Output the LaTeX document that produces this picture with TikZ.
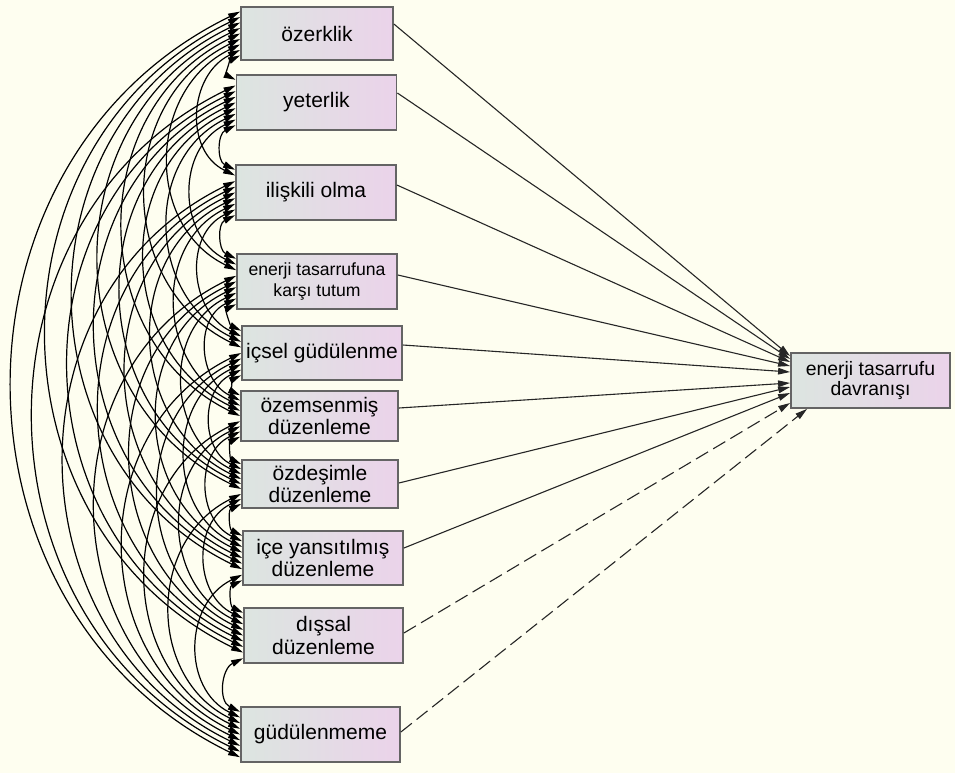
\documentclass[tikz,border=0pt]{standalone}
\usepackage{fontspec}
\setmainfont{Liberation Sans}
\usetikzlibrary{arrows.meta,calc}

\definecolor{bgyellow}{RGB}{254,254,240}
\definecolor{boxleft}{RGB}{220,229,224}
\definecolor{boxright}{RGB}{235,211,234}
\definecolor{boxline}{RGB}{100,100,100}

\tikzset{
  var/.style={draw=boxline, line width=0.9pt, left color=boxleft, right color=boxright,
    minimum width=80pt, minimum height=27.5pt, inner sep=0pt, align=center,
    font=\fontsize{10.5}{11.4}\selectfont},
  small/.style={font=\fontsize{8.8}{10.5}\selectfont},
  cov/.style={<->, line width=0.6pt},
  path/.style={->, line width=0.55pt, draw=black!85},
  nopath/.style={path, dash pattern=on 7pt off 3pt}
}

\begin{document}
\begin{tikzpicture}[x=0.5pt, y=0.5pt, >={Triangle[length=6pt,width=3.3pt]}]
  \useasboundingbox (0,0) rectangle (955,-773);
  \fill[bgyellow] (0,0) rectangle (955,-773);

  % observed variables
  \node[var, minimum width=76pt, minimum height=26.5pt] (v1) at (317,-33.5) {özerklik};
  \node[var] (v2) at (316.5,-102.5) {yeterlik};
  \node[var] (v3) at (316,-192.5) {ilişkili olma};
  \node[var, small] (v4) at (317,-281.5) {enerji tasarrufuna\\karşı tutum};
  \node[var, minimum height=27pt] (v5) at (322,-353) {içsel güdülenme};
  \node[var, minimum width=78.5pt, minimum height=25pt] (v6) at (319.5,-416) {özemsenmiş\\düzenleme};
  \node[var, minimum width=78pt, minimum height=24pt] (v7) at (320,-484) {özdeşimle\\düzenleme};
  \node[var, minimum height=27pt] (v8) at (323,-558) {içe yansıtılmış\\düzenleme};
  \node[var, minimum width=79.5pt] (v9) at (323.5,-635.5) {dışsal\\düzenleme};
  \node[var, minimum width=79.5pt] (v10) at (320.5,-734.5) {güdülenmeme};

  % outcome
  \node[var, minimum width=79.5pt, font=\fontsize{9.7}{10.4}\selectfont] (dv) at (870.5,-380.5) {enerji tasarrufu\\davranışı};

  % covariances
  \foreach \i in {1,...,9}{
    \pgfmathtruncatemacro\nxt{\i+1}
    \foreach \j in {\nxt,...,10}{
      \pgfmathsetmacro\fa{0.1+0.1*((\i-1)+(10-\j))}
      \pgfmathsetmacro\fb{0.1+0.1*(\j-1-\i)}
      \draw[cov] ($(v\i.north west)!\fa!(v\i.south west)$)
        to[out=206, in=154, looseness=1.16] ($(v\j.north west)!\fb!(v\j.south west)$);
    }
  }

  % regressions
  \draw[path] ([yshift=4.75pt]v1.east) -- ([yshift=12.25pt]dv.west);
  \draw[path] ([yshift=4.75pt]v2.east) -- ([yshift=10.75pt]dv.west);
  \draw[path] ([yshift=3.75pt]v3.east) -- ([yshift=9.25pt]dv.west);
  \draw[path] ([yshift=3.25pt]v4.east) -- ([yshift=7.25pt]dv.west);
  \draw[path] ([yshift=4pt]v5.east) -- ([yshift=4.25pt]dv.west);
  \draw[path] ([yshift=4pt]v6.east) -- ([yshift=-1.25pt]dv.west);
  \draw[path] ([yshift=0.5pt]v7.east) -- ([yshift=-3.25pt]dv.west);
  \draw[path] ([yshift=5pt]v8.east) -- ([yshift=-6.25pt]dv.west);
  \draw[nopath] ([yshift=1.25pt]v9.east) -- ([yshift=-11.25pt]dv.west);
  \draw[nopath] ([yshift=1.25pt]v10.east) -- ([xshift=8.5pt]dv.south west);
\end{tikzpicture}
\end{document}
